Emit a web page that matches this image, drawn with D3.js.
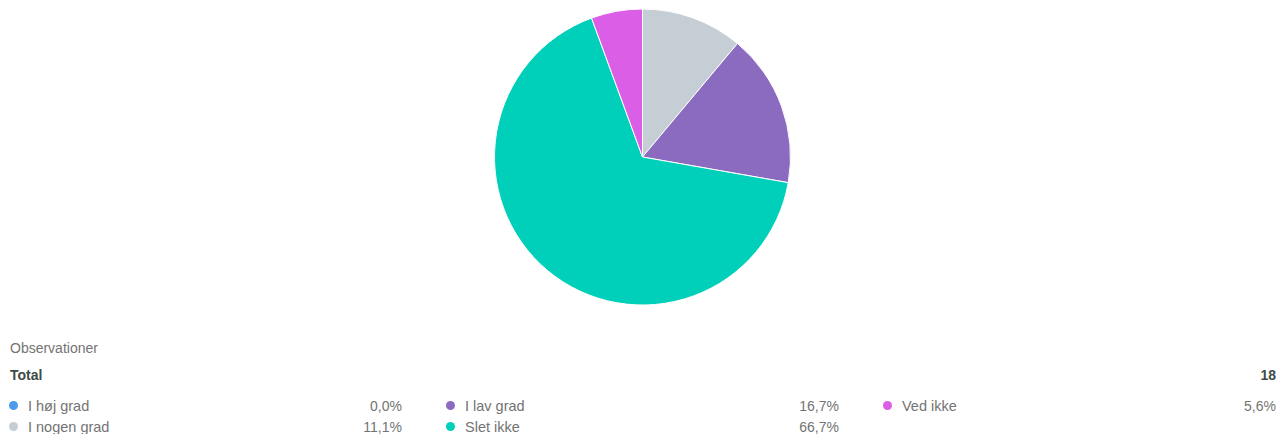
<!DOCTYPE html>
<html>
<head>
<meta charset="utf-8">
<script src="https://cdn.jsdelivr.net/npm/d3@7"></script>
<style>
  html, body { margin: 0; padding: 0; background: #ffffff; }
  svg { display: block; font-family: "Liberation Sans", Arial, sans-serif; }
</style>
</head>
<body>
<svg id="chart" width="1288" height="434"></svg>
<script>
// Answer categories, in drawing order (clockwise from 12 o'clock)
const categories = ["I høj grad", "I nogen grad", "I lav grad", "Slet ikke", "Ved ikke"];
// Share of responses, in percent
const shares = [0.0, 11.1, 16.7, 66.7, 5.6];
const sliceColors = ["#4a9bec", "#c5cdd5", "#8b6bc0", "#00d0b9", "#da5ee6"];
const totalCount = 18;
const titleText = "Observationer";
const totalLabel = "Total";

// Legend grid: column per entry (read down, then across)
const legendColumns = [[0, 1], [2, 3], [4]];

const svg = d3.select("#chart");

// ---- Pie ----
const cx = 642.5, cy = 157, radius = 148;
const data = categories.map((c, i) => ({ name: c, value: shares[i], color: sliceColors[i] }));
const pie = d3.pie().value(d => d.value).sort(null);
const arc = d3.arc().innerRadius(0).outerRadius(radius);

svg.append("g")
  .attr("transform", `translate(${cx},${cy})`)
  .selectAll("path")
  .data(pie(data).filter(d => d.data.value > 0))
  .join("path")
  .attr("d", arc)
  .attr("fill", d => d.data.color)
  .attr("stroke", "#ffffff")
  .attr("stroke-width", 1);

// ---- Legend / summary table ----
const fmt = v => v.toFixed(1).replace(".", ",") + "%";

svg.append("text")
  .attr("x", 10).attr("y", 353)
  .attr("font-size", 14).attr("fill", "#737373")
  .text(titleText);

svg.append("text")
  .attr("x", 10).attr("y", 379.5)
  .attr("font-size", 14).attr("font-weight", "bold").attr("fill", "#3d4b47")
  .text(totalLabel);

svg.append("text")
  .attr("x", 1276).attr("y", 379.5)
  .attr("text-anchor", "end")
  .attr("font-size", 14).attr("font-weight", "bold").attr("fill", "#3d4b47")
  .text(totalCount);

// dot centres of the three legend columns
const colX = d3.scalePoint().domain(d3.range(legendColumns.length)).range([13, 887]);
const pctOffset = 389;
const rowY = d3.scalePoint().domain([0, 1]).range([405.5, 426.5]);

legendColumns.forEach((col, ci) => {
  const g = svg.append("g").attr("transform", `translate(${colX(ci)},0)`);
  col.forEach((idx, ri) => {
    const y = rowY(ri);
    g.append("circle")
      .attr("cx", 0.5).attr("cy", y).attr("r", 4.5)
      .attr("fill", sliceColors[idx]);
    g.append("text")
      .attr("x", 15).attr("y", y + 5)
      .attr("font-size", 14.5).attr("fill", "#737373")
      .text(categories[idx]);
    g.append("text")
      .attr("x", pctOffset).attr("y", y + 5)
      .attr("text-anchor", "end")
      .attr("font-size", 14).attr("fill", "#737373")
      .text(fmt(shares[idx]));
  });
});
</script>
</body>
</html>
